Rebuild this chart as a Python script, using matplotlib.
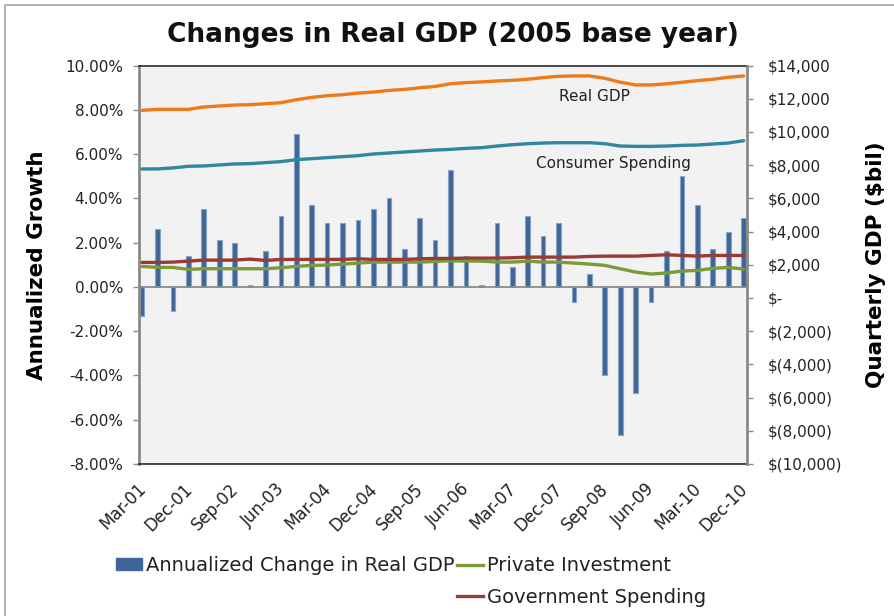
import matplotlib
matplotlib.use("Agg")
import matplotlib.pyplot as plt
import matplotlib.transforms as mtransforms
from matplotlib.patches import Patch, Rectangle
from matplotlib.lines import Line2D
from matplotlib.ticker import FuncFormatter
import numpy as np

plt.rcParams['font.family'] = ['DejaVu Sans']

# ---------------- data ----------------
quarters = ["Mar-01", "Jun-01", "Sep-01", "Dec-01", "Mar-02", "Jun-02", "Sep-02", "Dec-02",
            "Mar-03", "Jun-03", "Sep-03", "Dec-03", "Mar-04", "Jun-04", "Sep-04", "Dec-04",
            "Mar-05", "Jun-05", "Sep-05", "Dec-05", "Mar-06", "Jun-06", "Sep-06", "Dec-06",
            "Mar-07", "Jun-07", "Sep-07", "Dec-07", "Mar-08", "Jun-08", "Sep-08", "Dec-08",
            "Mar-09", "Jun-09", "Sep-09", "Dec-09", "Mar-10", "Jun-10", "Sep-10", "Dec-10"]

gdp_change = [-1.3, 2.6, -1.1, 1.4, 3.5, 2.1, 2.0, 0.1, 1.6, 3.2,
              6.9, 3.7, 2.9, 2.9, 3.0, 3.5, 4.0, 1.7, 3.1, 2.1,
              5.3, 1.4, 0.1, 2.9, 0.9, 3.2, 2.3, 2.9, -0.7, 0.6,
              -4.0, -6.7, -4.8, -0.7, 1.6, 5.0, 3.7, 1.7, 2.5, 3.1]

real_gdp = [11300, 11360, 11360, 11360, 11500, 11560, 11620, 11640, 11700, 11760,
            11940, 12080, 12180, 12240, 12340, 12400, 12500, 12560, 12660, 12740,
            12900, 12970, 13010, 13070, 13110, 13170, 13270, 13350, 13370, 13370,
            13230, 12990, 12830, 12830, 12900, 12990, 13090, 13170, 13290, 13370]

consumer = [7770, 7770, 7830, 7930, 7950, 8010, 8070, 8090, 8150, 8210,
            8330, 8390, 8450, 8510, 8570, 8670, 8730, 8790, 8850, 8910,
            8950, 9010, 9050, 9150, 9230, 9290, 9330, 9350, 9350, 9350,
            9290, 9150, 9130, 9130, 9150, 9190, 9210, 9270, 9330, 9470]

investment = [1900, 1840, 1840, 1720, 1760, 1760, 1760, 1760, 1760, 1820,
              1900, 1960, 1980, 2040, 2100, 2160, 2160, 2160, 2160, 2200,
              2240, 2220, 2220, 2160, 2160, 2220, 2160, 2160, 2100, 2040,
              1960, 1760, 1560, 1440, 1500, 1620, 1660, 1780, 1840, 1740]

government = [2140, 2140, 2160, 2220, 2280, 2280, 2280, 2340, 2260, 2320,
              2320, 2320, 2320, 2320, 2360, 2320, 2320, 2320, 2360, 2380,
              2380, 2400, 2400, 2400, 2420, 2460, 2460, 2460, 2460, 2500,
              2520, 2520, 2520, 2560, 2600, 2560, 2520, 2560, 2560, 2560]

left_ticks = [-8, -6, -4, -2, 0, 2, 4, 6, 8, 10]
right_ticks = [-10000, -8000, -6000, -4000, -2000, 0, 2000, 4000, 6000, 8000, 10000, 12000, 14000]

# ---------------- styles ----------------
C_BAR = '#3f6698'
C_BAR_EDGE = '#86a3c8'
C_REAL = '#f07a18'
C_CONS = '#31879f'
C_INV = '#7a9a3c'
C_GOV = '#983a36'
GRAY = '#8a8a8a'
TXT = '#222222'

W, H = 894, 616
fig = plt.figure(figsize=(W / 100, H / 100), dpi=100)
fig.patch.set_facecolor('white')

L, R, T, B = 139, 746.7, 65.5, 464
ax = fig.add_axes([L / W, 1 - B / H, (R - L) / W, (B - T) / H])
ax.set_facecolor('#f2f2f2')

x = np.arange(len(quarters))
ax.bar(x, gdp_change, width=0.3, color=C_BAR, edgecolor=C_BAR_EDGE, linewidth=0.8, zorder=2)
ax.axhline(0, color=GRAY, lw=1.3, zorder=3)
ax.set_xlim(-0.2, len(quarters) - 0.8)
ax.set_ylim(-8, 10)
ax.set_yticks(left_ticks)
ax.yaxis.set_major_formatter(FuncFormatter(lambda v, p: f"{v:.2f}%"))
ax.tick_params(axis='y', direction='out', length=4.3, width=1, color=GRAY, pad=7.2,
               labelsize=11, labelcolor=TXT)

tick_idx = list(range(0, len(quarters), 3))
ax.set_xticks(tick_idx)
ax.set_xticklabels([quarters[i] for i in tick_idx], rotation=45, ha='right', va='center',
                   rotation_mode='anchor', fontsize=12, color=TXT)
ax.tick_params(axis='x', length=0, pad=16)
offset = mtransforms.ScaledTranslation(1 / 100, 0, fig.dpi_scale_trans)
for lab in ax.get_xticklabels():
    lab.set_transform(lab.get_transform() + offset)

ax.spines['left'].set_color(GRAY)
ax.spines['left'].set_linewidth(2)
for s in ['top', 'bottom']:
    ax.spines[s].set_color('#2a2a2a')
    ax.spines[s].set_linewidth(1.2)
ax.spines['right'].set_visible(False)

ax.set_ylabel("Annualized Growth", fontsize=15.5, fontweight='bold', labelpad=13)

ax2 = ax.twinx()
ax2.plot(x, real_gdp, color=C_REAL, lw=2.4, zorder=3, solid_capstyle='round')
ax2.plot(x, consumer, color=C_CONS, lw=2.4, zorder=3, solid_capstyle='round')
ax2.plot(x, investment, color=C_INV, lw=2.4, zorder=3, solid_capstyle='round')
ax2.plot(x, government, color=C_GOV, lw=2.4, zorder=3, solid_capstyle='round')
ax2.set_ylim(-10000, 14000)
ax2.set_yticks(right_ticks)


def dollar(v, p):
    if v == 0:
        return "$-"
    if v < 0:
        return f"$({abs(int(v)):,})"
    return f"${int(v):,}"


ax2.yaxis.set_major_formatter(FuncFormatter(dollar))
ax2.tick_params(axis='y', direction='out', length=4.3, width=1, color=GRAY, pad=11,
                labelsize=11, labelcolor=TXT)
ax2.spines['right'].set_color(GRAY)
ax2.spines['right'].set_linewidth(2)
for s in ['top', 'bottom', 'left']:
    ax2.spines[s].set_visible(False)
ax2.set_ylabel("Quarterly GDP ($bil)", fontsize=15.5, fontweight='bold', labelpad=17)

ax2.text(0.749, 0.923, "Real GDP", transform=ax2.transAxes, ha='center', va='center',
         fontsize=11, color=TXT)
ax2.text(0.78, 0.755, "Consumer Spending", transform=ax2.transAxes, ha='center', va='center',
         fontsize=11, color=TXT)

fig.text(453 / W, 1 - 35 / H, "Changes in Real GDP (2005 base year)", ha='center', va='center',
         fontsize=19, fontweight='bold', color='#111111')

handles = [Patch(facecolor=C_BAR, edgecolor=C_BAR),
           Line2D([], [], linestyle='none'),
           Line2D([], [], color=C_INV, lw=2.4),
           Line2D([], [], color=C_GOV, lw=2.4)]
labels = ["Annualized Change in Real GDP", "", "Private Investment", "Government Spending"]
fig.legend(handles, labels, ncol=2, loc='upper left', bbox_to_anchor=(116 / W, 1 - 556 / H),
           frameon=False, fontsize=14, handlelength=1.35, handleheight=0.55, handletextpad=0.2,
           columnspacing=0.1, borderpad=0, borderaxespad=0, labelspacing=0.65,
           labelcolor=TXT)

fig.add_artist(Rectangle((5 / W, -0.1), 1.2, (1 - 5 / H) + 0.1, transform=fig.transFigure,
                         fill=False, edgecolor='#a6a6a6', lw=1.2))

fig.savefig("out.png", dpi=100, facecolor='white')
